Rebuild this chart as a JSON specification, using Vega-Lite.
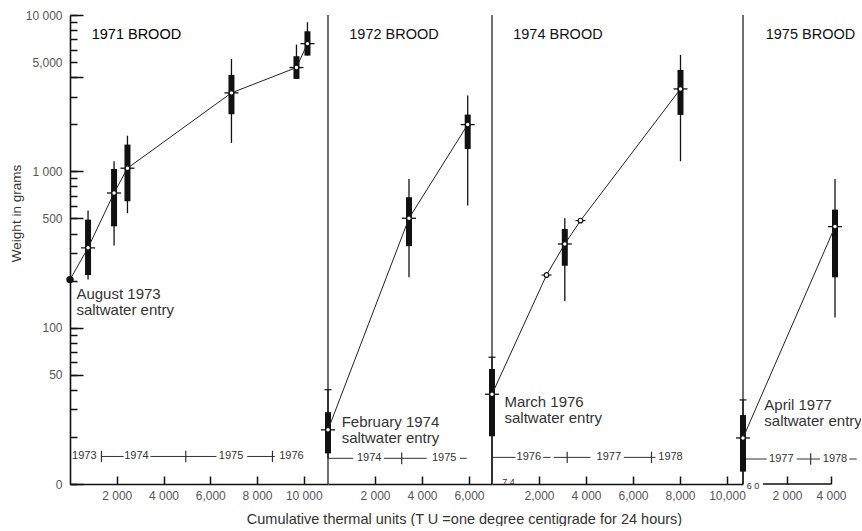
{
"$schema":"https://vega.github.io/schema/vega-lite/v6.json",
"background":"white",
"padding":{"left":9,"top":9,"right":0,"bottom":0},
"spacing":0,
"bounds":"flush",
"datasets":{"d":[
{"brood":"1971","type":"obs","kind":"entry","tu":0,"mean":203},
{"brood":"1971","type":"obs","kind":"box","tu":772,"lo":203,"boxlo":217,"mean":324,"boxhi":491,"hi":561},
{"brood":"1971","type":"obs","kind":"box","tu":1885,"lo":335,"boxlo":445,"mean":727,"boxhi":1036,"hi":1161},
{"brood":"1971","type":"obs","kind":"box","tu":2458,"lo":540,"boxlo":644,"mean":1047,"boxhi":1483,"hi":1690},
{"brood":"1971","type":"obs","kind":"box","tu":6907,"lo":1520,"boxlo":2319,"mean":3176,"boxhi":4139,"hi":5238},
{"brood":"1971","type":"obs","kind":"box","tu":9688,"lo":3900,"boxlo":3900,"mean":4612,"boxhi":5450,"hi":6470},
{"brood":"1971","type":"obs","kind":"box","tu":10158,"lo":5500,"boxlo":5500,"mean":6560,"boxhi":7870,"hi":8990},
{"brood":"1971","type":"seg","tu":1345,"tu2":2294,"w":15.0},
{"brood":"1971","type":"seg","tu":3440,"tu2":6266,"w":15.0},
{"brood":"1971","type":"seg","tu":7576,"tu2":8760,"w":15.0},
{"brood":"1971","type":"cross","tu":1345,"lo":13.8,"hi":16.3},
{"brood":"1971","type":"cross","tu":4952,"lo":13.8,"hi":16.3},
{"brood":"1971","type":"cross","tu":8661,"lo":13.8,"hi":16.3},
{"brood":"1971","type":"label","kind":"year","tu":610,"w":15.0,"text":"1973"},
{"brood":"1971","type":"label","kind":"year","tu":2840,"w":15.0,"text":"1974"},
{"brood":"1971","type":"label","kind":"year","tu":6891,"w":15.0,"text":"1975"},
{"brood":"1971","type":"label","kind":"year","tu":9474,"w":15.0,"text":"1976"},
{"brood":"1971","type":"label","kind":"title","tu":928,"w":7500,"text":"1971 BROOD"},
{"brood":"1971","type":"label","kind":"note","tu":275,"w":152.7,"text":["August 1973","saltwater entry"]},

{"brood":"1972","type":"divider","tu":0,"lo":10,"hi":10000},
{"brood":"1972","type":"obs","kind":"box","tu":0,"lo":14.6,"boxlo":15.7,"mean":22.2,"boxhi":28.8,"hi":40.1},
{"brood":"1972","type":"obs","kind":"box","tu":3447,"lo":210,"boxlo":332,"mean":501,"boxhi":683,"hi":894},
{"brood":"1972","type":"obs","kind":"box","tu":5945,"lo":604,"boxlo":1390,"mean":1990,"boxhi":2306,"hi":3050},
{"brood":"1972","type":"cap","tu":0,"w":40.1},
{"brood":"1972","type":"seg","tu":0,"tu2":1077,"w":14.6},
{"brood":"1972","type":"seg","tu":2383,"tu2":4200,"w":14.6},
{"brood":"1972","type":"seg","tu":5617,"tu2":5902,"w":14.6},
{"brood":"1972","type":"cross","tu":3136,"lo":13.4,"hi":15.9},
{"brood":"1972","type":"label","kind":"year","tu":1753,"w":14.6,"text":"1974"},
{"brood":"1972","type":"label","kind":"year","tu":4945,"w":14.6,"text":"1975"},
{"brood":"1972","type":"label","kind":"title","tu":906,"w":7500,"text":"1972 BROOD"},
{"brood":"1972","type":"label","kind":"note","tu":583,"w":23.06,"text":["February 1974","saltwater entry"]},

{"brood":"1974","type":"divider","tu":0,"lo":10,"hi":10000},
{"brood":"1974","type":"obs","kind":"box","tu":0,"lo":10,"boxlo":20.2,"mean":37.5,"boxhi":54.4,"hi":64.7},
{"brood":"1974","type":"obs","kind":"point","tu":2319,"mean":217},
{"brood":"1974","type":"obs","kind":"box","tu":3098,"lo":148,"boxlo":249,"mean":343,"boxhi":428,"hi":501},
{"brood":"1974","type":"obs","kind":"point","tu":3766,"mean":484},
{"brood":"1974","type":"obs","kind":"box","tu":8021,"lo":1161,"boxlo":2296,"mean":3367,"boxhi":4454,"hi":5556},
{"brood":"1974","type":"cap","tu":0,"w":64.7},
{"brood":"1974","type":"seg","tu":0,"tu2":1000,"w":14.8},
{"brood":"1974","type":"seg","tu":2179,"tu2":2489,"w":14.8},
{"brood":"1974","type":"seg","tu":2630,"tu2":4191,"w":14.8},
{"brood":"1974","type":"seg","tu":5609,"tu2":6957,"w":14.8},
{"brood":"1974","type":"cross","tu":3200,"lo":13.6,"hi":16.1},
{"brood":"1974","type":"cross","tu":6787,"lo":13.6,"hi":16.1},
{"brood":"1974","type":"label","kind":"year","tu":1566,"w":14.8,"text":"1976"},
{"brood":"1974","type":"label","kind":"year","tu":4970,"w":14.8,"text":"1977"},
{"brood":"1974","type":"label","kind":"year","tu":7596,"w":14.8,"text":"1978"},
{"brood":"1974","type":"label","kind":"title","tu":902,"w":7500,"text":"1974 BROOD"},
{"brood":"1974","type":"label","kind":"note","tu":532,"w":30.95,"text":["March 1976","saltwater entry"]},
{"brood":"1974","type":"label","kind":"small","tu":702,"w":10.3,"text":"7 4"},

{"brood":"1975","type":"divider","tu":0,"lo":10,"hi":10000},
{"brood":"1975","type":"obs","kind":"box","tu":0,"lo":10,"boxlo":12.0,"mean":19.7,"boxhi":27.6,"hi":34.5},
{"brood":"1975","type":"obs","kind":"box","tu":4182,"lo":116,"boxlo":210,"mean":443,"boxhi":569,"hi":894},
{"brood":"1975","type":"cap","tu":0,"w":34.5},
{"brood":"1975","type":"seg","tu":0,"tu2":1077,"w":14.45},
{"brood":"1975","type":"seg","tu":2441,"tu2":3500,"w":14.45},
{"brood":"1975","type":"seg","tu":4832,"tu2":5168,"w":14.45},
{"brood":"1975","type":"cross","tu":3077,"lo":13.3,"hi":15.7},
{"brood":"1975","type":"label","kind":"year","tu":1741,"w":14.45,"text":"1977"},
{"brood":"1975","type":"label","kind":"year","tu":4182,"w":14.45,"text":"1978"},
{"brood":"1975","type":"label","kind":"title","tu":1032,"w":7500,"text":"1975 BROOD"},
{"brood":"1975","type":"label","kind":"note","tu":968,"w":29.9,"text":["April 1977","saltwater entry"]},
{"brood":"1975","type":"label","kind":"small","tu":455,"w":9.75,"text":"6 0"},
{"brood":"1975","type":"axisline","tu":909,"tu2":4000,"w":10}
]},
"data":{"name":"d"},
"resolve":{"scale":{"x":"independent","y":"independent"},"axis":{"x":"independent","y":"independent"}},
"hconcat":[
{
"width":258,"height":469,
"transform":[{"filter":"datum.brood=='1971'"}],
"resolve":{"axis":{"y":"independent"}},
"encoding":{"x":{"field":"tu","type":"quantitative","scale":{"domain":[0,11037],"nice":false,"zero":false},
"axis":{"values":[2000,4000,6000,8000,10000],"title":null,"labelExpr":"datum.value==6000?'6,000':replace(format(datum.value,','),',',' ')"}}},
"layer":[
{"transform":[{"filter":"datum.type=='seg'"}],"mark":{"type":"rule","color":"#333","strokeWidth":1},"encoding":{"x2":{"field":"tu2"},"y":{"field":"w","type":"quantitative","scale":{"type":"log","domain":[10,10000],"nice":false},"axis":null}}},
{"transform":[{"filter":"datum.type=='cross'"}],"mark":{"type":"rule","color":"#333","strokeWidth":1.2},"encoding":{"y":{"field":"lo","type":"quantitative","scale":{"type":"log","domain":[10,10000],"nice":false},"axis":null},"y2":{"field":"hi"}}},
{"transform":[{"filter":"datum.type=='obs'"}],"mark":{"type":"rule","color":"#111","strokeWidth":1.3},"encoding":{"y":{"field":"lo","type":"quantitative","scale":{"type":"log","domain":[10,10000],"nice":false},
"axis":{"orient":"left","values":[10,20,30,40,50,60,70,80,90,100,200,300,400,500,600,700,800,900,1000,2000,3000,4000,5000,6000,7000,8000,9000,10000],
"title":"Weight in grams","titleFontSize":13.5,"titleX":-54,"titleY":198,"titleBaseline":"middle","titleAngle":270,
"labelExpr":"datum.value==10000?'10 000':datum.value==5000?'5,000':datum.value==1000?'1 000':datum.value==500?'500':datum.value==100?'100':datum.value==50?'50':datum.value==10?'0':''",
"tickSize":-7,"labelPadding":15}},"y2":{"field":"hi"}}},
{"transform":[{"filter":"datum.type=='obs'"}],"mark":{"type":"rule","color":"#111","strokeWidth":6,"strokeCap":"butt"},"encoding":{"y":{"field":"boxlo","type":"quantitative","scale":{"type":"log","domain":[10,10000],"nice":false},
"axis":{"orient":"left","values":[10,50,100,500,1000,4000,10000],"tickSize":-13,"labels":false,"domain":false,"title":null}},"y2":{"field":"boxhi"}}},
{"transform":[{"filter":"datum.type=='obs'"}],"mark":{"type":"line","color":"#222","strokeWidth":1},"encoding":{"y":{"field":"mean","type":"quantitative","scale":{"type":"log","domain":[10,10000],"nice":false},"axis":null}}},
{"transform":[{"filter":"datum.type=='obs' && datum.kind=='box'"}],"mark":{"type":"tick","orient":"horizontal","color":"#111","size":14,"thickness":1.3,"opacity":1},"encoding":{"y":{"field":"mean","type":"quantitative","scale":{"type":"log","domain":[10,10000],"nice":false},"axis":null}}},
{"transform":[{"filter":"datum.type=='obs' && datum.kind!='entry'"}],"mark":{"type":"point","shape":"circle","filled":true,"fill":"white","stroke":"#111","strokeWidth":1.2,"size":22,"opacity":1},"encoding":{"y":{"field":"mean","type":"quantitative","scale":{"type":"log","domain":[10,10000],"nice":false},"axis":null}}},
{"transform":[{"filter":"datum.kind=='entry'"}],"mark":{"type":"point","shape":"circle","filled":true,"color":"#111","size":55,"opacity":1},"encoding":{"y":{"field":"mean","type":"quantitative","scale":{"type":"log","domain":[10,10000],"nice":false},"axis":null}}},
{"transform":[{"filter":"datum.kind=='title'"}],"mark":{"type":"text","align":"left","baseline":"middle","fontSize":14.5,"color":"#000"},"encoding":{"text":{"field":"text"},"y":{"field":"w","type":"quantitative","scale":{"type":"log","domain":[10,10000],"nice":false},"axis":null}}},
{"transform":[{"filter":"datum.kind=='note'"}],"mark":{"type":"text","align":"left","baseline":"alphabetic","fontSize":15,"lineHeight":16,"color":"#333"},"encoding":{"text":{"field":"text"},"y":{"field":"w","type":"quantitative","scale":{"type":"log","domain":[10,10000],"nice":false},"axis":null}}},
{"transform":[{"filter":"datum.kind=='year'"}],"mark":{"type":"text","align":"center","baseline":"middle","fontSize":11,"color":"#333"},"encoding":{"text":{"field":"text"},"y":{"field":"w","type":"quantitative","scale":{"type":"log","domain":[10,10000],"nice":false},"axis":null}}}
]},
{
"width":164,"height":469,
"transform":[{"filter":"datum.brood=='1972'"}],
"encoding":{"x":{"field":"tu","type":"quantitative","scale":{"domain":[0,6979],"nice":false,"zero":false},
"axis":{"values":[2000,4000,6000],"title":"Cumulative thermal units (T U =one degree centigrade for 24 hours)","titleX":136,"titleFontSize":14.5,"titlePadding":11,"labelExpr":"datum.value==6000?'6,000':replace(format(datum.value,','),',',' ')"}}},
"layer":[
{"transform":[{"filter":"datum.type=='divider'"}],"mark":{"type":"rule","color":"#222","strokeWidth":1.3},"encoding":{"y":{"field":"lo","type":"quantitative","scale":{"type":"log","domain":[10,10000],"nice":false},"axis":null},"y2":{"field":"hi"}}},
{"transform":[{"filter":"datum.type=='seg'"}],"mark":{"type":"rule","color":"#333","strokeWidth":1},"encoding":{"x2":{"field":"tu2"},"y":{"field":"w","type":"quantitative","scale":{"type":"log","domain":[10,10000],"nice":false},"axis":null}}},
{"transform":[{"filter":"datum.type=='cross'"}],"mark":{"type":"rule","color":"#333","strokeWidth":1.2},"encoding":{"y":{"field":"lo","type":"quantitative","scale":{"type":"log","domain":[10,10000],"nice":false},"axis":null},"y2":{"field":"hi"}}},
{"transform":[{"filter":"datum.type=='obs'"}],"mark":{"type":"rule","color":"#111","strokeWidth":1.3},"encoding":{"y":{"field":"lo","type":"quantitative","scale":{"type":"log","domain":[10,10000],"nice":false},"axis":null},"y2":{"field":"hi"}}},
{"transform":[{"filter":"datum.type=='obs'"}],"mark":{"type":"rule","color":"#111","strokeWidth":6,"strokeCap":"butt"},"encoding":{"y":{"field":"boxlo","type":"quantitative","scale":{"type":"log","domain":[10,10000],"nice":false},"axis":null},"y2":{"field":"boxhi"}}},
{"transform":[{"filter":"datum.type=='obs'"}],"mark":{"type":"line","color":"#222","strokeWidth":1},"encoding":{"y":{"field":"mean","type":"quantitative","scale":{"type":"log","domain":[10,10000],"nice":false},"axis":null}}},
{"transform":[{"filter":"datum.type=='cap'"}],"mark":{"type":"tick","orient":"horizontal","color":"#111","size":7,"thickness":1.2,"opacity":1},"encoding":{"y":{"field":"w","type":"quantitative","scale":{"type":"log","domain":[10,10000],"nice":false},"axis":null}}},
{"transform":[{"filter":"datum.type=='obs' && datum.kind=='box'"}],"mark":{"type":"tick","orient":"horizontal","color":"#111","size":14,"thickness":1.3,"opacity":1},"encoding":{"y":{"field":"mean","type":"quantitative","scale":{"type":"log","domain":[10,10000],"nice":false},"axis":null}}},
{"transform":[{"filter":"datum.type=='obs'"}],"mark":{"type":"point","shape":"circle","filled":true,"fill":"white","stroke":"#111","strokeWidth":1.2,"size":22,"opacity":1},"encoding":{"y":{"field":"mean","type":"quantitative","scale":{"type":"log","domain":[10,10000],"nice":false},"axis":null}}},
{"transform":[{"filter":"datum.kind=='title'"}],"mark":{"type":"text","align":"left","baseline":"middle","fontSize":14.5,"color":"#111"},"encoding":{"text":{"field":"text"},"y":{"field":"w","type":"quantitative","scale":{"type":"log","domain":[10,10000],"nice":false},"axis":null}}},
{"transform":[{"filter":"datum.kind=='note'"}],"mark":{"type":"text","align":"left","baseline":"alphabetic","fontSize":15,"lineHeight":16,"color":"#333"},"encoding":{"text":{"field":"text"},"y":{"field":"w","type":"quantitative","scale":{"type":"log","domain":[10,10000],"nice":false},"axis":null}}},
{"transform":[{"filter":"datum.kind=='year'"}],"mark":{"type":"text","align":"center","baseline":"middle","fontSize":11,"color":"#333"},"encoding":{"text":{"field":"text"},"y":{"field":"w","type":"quantitative","scale":{"type":"log","domain":[10,10000],"nice":false},"axis":null}}}
]},
{
"width":251,"height":469,
"transform":[{"filter":"datum.brood=='1974'"}],
"encoding":{"x":{"field":"tu","type":"quantitative","scale":{"domain":[0,10681],"nice":false,"zero":false},
"axis":{"values":[2000,4000,6000,8000,10000],"title":null,"labelExpr":"datum.value==4000?'4 000':format(datum.value,',')"}}},
"layer":[
{"transform":[{"filter":"datum.type=='divider'"}],"mark":{"type":"rule","color":"#222","strokeWidth":1.3},"encoding":{"y":{"field":"lo","type":"quantitative","scale":{"type":"log","domain":[10,10000],"nice":false},"axis":null},"y2":{"field":"hi"}}},
{"transform":[{"filter":"datum.type=='seg'"}],"mark":{"type":"rule","color":"#333","strokeWidth":1},"encoding":{"x2":{"field":"tu2"},"y":{"field":"w","type":"quantitative","scale":{"type":"log","domain":[10,10000],"nice":false},"axis":null}}},
{"transform":[{"filter":"datum.type=='cross'"}],"mark":{"type":"rule","color":"#333","strokeWidth":1.2},"encoding":{"y":{"field":"lo","type":"quantitative","scale":{"type":"log","domain":[10,10000],"nice":false},"axis":null},"y2":{"field":"hi"}}},
{"transform":[{"filter":"datum.type=='obs'"}],"mark":{"type":"rule","color":"#111","strokeWidth":1.3},"encoding":{"y":{"field":"lo","type":"quantitative","scale":{"type":"log","domain":[10,10000],"nice":false},"axis":null},"y2":{"field":"hi"}}},
{"transform":[{"filter":"datum.type=='obs'"}],"mark":{"type":"rule","color":"#111","strokeWidth":6,"strokeCap":"butt"},"encoding":{"y":{"field":"boxlo","type":"quantitative","scale":{"type":"log","domain":[10,10000],"nice":false},"axis":null},"y2":{"field":"boxhi"}}},
{"transform":[{"filter":"datum.type=='obs'"}],"mark":{"type":"line","color":"#222","strokeWidth":1},"encoding":{"y":{"field":"mean","type":"quantitative","scale":{"type":"log","domain":[10,10000],"nice":false},"axis":null}}},
{"transform":[{"filter":"datum.type=='cap'"}],"mark":{"type":"tick","orient":"horizontal","color":"#111","size":7,"thickness":1.2,"opacity":1},"encoding":{"y":{"field":"w","type":"quantitative","scale":{"type":"log","domain":[10,10000],"nice":false},"axis":null}}},
{"transform":[{"filter":"datum.type=='obs' && datum.kind=='box'"}],"mark":{"type":"tick","orient":"horizontal","color":"#111","size":14,"thickness":1.3,"opacity":1},"encoding":{"y":{"field":"mean","type":"quantitative","scale":{"type":"log","domain":[10,10000],"nice":false},"axis":null}}},
{"transform":[{"filter":"datum.type=='obs' && datum.kind=='point'"}],"mark":{"type":"tick","orient":"horizontal","color":"#111","size":10,"thickness":1.1,"opacity":1},"encoding":{"y":{"field":"mean","type":"quantitative","scale":{"type":"log","domain":[10,10000],"nice":false},"axis":null}}},
{"transform":[{"filter":"datum.type=='obs'"}],"mark":{"type":"point","shape":"circle","filled":true,"fill":"white","stroke":"#111","strokeWidth":1.2,"size":22,"opacity":1},"encoding":{"y":{"field":"mean","type":"quantitative","scale":{"type":"log","domain":[10,10000],"nice":false},"axis":null}}},
{"transform":[{"filter":"datum.kind=='title'"}],"mark":{"type":"text","align":"left","baseline":"middle","fontSize":14.5,"color":"#111"},"encoding":{"text":{"field":"text"},"y":{"field":"w","type":"quantitative","scale":{"type":"log","domain":[10,10000],"nice":false},"axis":null}}},
{"transform":[{"filter":"datum.kind=='note'"}],"mark":{"type":"text","align":"left","baseline":"alphabetic","fontSize":15,"lineHeight":16,"color":"#333"},"encoding":{"text":{"field":"text"},"y":{"field":"w","type":"quantitative","scale":{"type":"log","domain":[10,10000],"nice":false},"axis":null}}},
{"transform":[{"filter":"datum.kind=='year'"}],"mark":{"type":"text","align":"center","baseline":"middle","fontSize":11,"color":"#333"},"encoding":{"text":{"field":"text"},"y":{"field":"w","type":"quantitative","scale":{"type":"log","domain":[10,10000],"nice":false},"axis":null}}},
{"transform":[{"filter":"datum.kind=='small'"}],"mark":{"type":"text","align":"center","baseline":"middle","fontSize":9,"color":"#333"},"encoding":{"text":{"field":"text"},"y":{"field":"w","type":"quantitative","scale":{"type":"log","domain":[10,10000],"nice":false},"axis":null}}}
]},
{
"width":118,"height":469,
"transform":[{"filter":"datum.brood=='1975'"}],
"encoding":{"x":{"field":"tu","type":"quantitative","scale":{"domain":[0,5364],"nice":false,"zero":false},
"axis":{"values":[2000,4000],"title":null,"domain":false,"labelExpr":"replace(format(datum.value,','),',',' ')"}}},
"layer":[
{"transform":[{"filter":"datum.type=='divider'"}],"mark":{"type":"rule","color":"#222","strokeWidth":1.3},"encoding":{"y":{"field":"lo","type":"quantitative","scale":{"type":"log","domain":[10,10000],"nice":false},"axis":null},"y2":{"field":"hi"}}},
{"transform":[{"filter":"datum.type=='axisline'"}],"mark":{"type":"rule","color":"#111","strokeWidth":1.6},"encoding":{"x2":{"field":"tu2"},"y":{"field":"w","type":"quantitative","scale":{"type":"log","domain":[10,10000],"nice":false},"axis":null}}},
{"transform":[{"filter":"datum.type=='seg'"}],"mark":{"type":"rule","color":"#333","strokeWidth":1},"encoding":{"x2":{"field":"tu2"},"y":{"field":"w","type":"quantitative","scale":{"type":"log","domain":[10,10000],"nice":false},"axis":null}}},
{"transform":[{"filter":"datum.type=='cross'"}],"mark":{"type":"rule","color":"#333","strokeWidth":1.2},"encoding":{"y":{"field":"lo","type":"quantitative","scale":{"type":"log","domain":[10,10000],"nice":false},"axis":null},"y2":{"field":"hi"}}},
{"transform":[{"filter":"datum.type=='obs'"}],"mark":{"type":"rule","color":"#111","strokeWidth":1.3},"encoding":{"y":{"field":"lo","type":"quantitative","scale":{"type":"log","domain":[10,10000],"nice":false},"axis":null},"y2":{"field":"hi"}}},
{"transform":[{"filter":"datum.type=='obs'"}],"mark":{"type":"rule","color":"#111","strokeWidth":6,"strokeCap":"butt"},"encoding":{"y":{"field":"boxlo","type":"quantitative","scale":{"type":"log","domain":[10,10000],"nice":false},"axis":null},"y2":{"field":"boxhi"}}},
{"transform":[{"filter":"datum.type=='obs'"}],"mark":{"type":"line","color":"#222","strokeWidth":1},"encoding":{"y":{"field":"mean","type":"quantitative","scale":{"type":"log","domain":[10,10000],"nice":false},"axis":null}}},
{"transform":[{"filter":"datum.type=='cap'"}],"mark":{"type":"tick","orient":"horizontal","color":"#111","size":7,"thickness":1.2,"opacity":1},"encoding":{"y":{"field":"w","type":"quantitative","scale":{"type":"log","domain":[10,10000],"nice":false},"axis":null}}},
{"transform":[{"filter":"datum.type=='obs' && datum.kind=='box'"}],"mark":{"type":"tick","orient":"horizontal","color":"#111","size":14,"thickness":1.3,"opacity":1},"encoding":{"y":{"field":"mean","type":"quantitative","scale":{"type":"log","domain":[10,10000],"nice":false},"axis":null}}},
{"transform":[{"filter":"datum.type=='obs'"}],"mark":{"type":"point","shape":"circle","filled":true,"fill":"white","stroke":"#111","strokeWidth":1.2,"size":22,"opacity":1},"encoding":{"y":{"field":"mean","type":"quantitative","scale":{"type":"log","domain":[10,10000],"nice":false},"axis":null}}},
{"transform":[{"filter":"datum.kind=='title'"}],"mark":{"type":"text","align":"left","baseline":"middle","fontSize":14.5,"color":"#111"},"encoding":{"text":{"field":"text"},"y":{"field":"w","type":"quantitative","scale":{"type":"log","domain":[10,10000],"nice":false},"axis":null}}},
{"transform":[{"filter":"datum.kind=='note'"}],"mark":{"type":"text","align":"left","baseline":"alphabetic","fontSize":15,"lineHeight":16,"color":"#333","clip":true},"encoding":{"text":{"field":"text"},"y":{"field":"w","type":"quantitative","scale":{"type":"log","domain":[10,10000],"nice":false},"axis":null}}},
{"transform":[{"filter":"datum.kind=='year'"}],"mark":{"type":"text","align":"center","baseline":"middle","fontSize":11,"color":"#333"},"encoding":{"text":{"field":"text"},"y":{"field":"w","type":"quantitative","scale":{"type":"log","domain":[10,10000],"nice":false},"axis":null}}},
{"transform":[{"filter":"datum.kind=='small'"}],"mark":{"type":"text","align":"center","baseline":"middle","fontSize":9,"color":"#333"},"encoding":{"text":{"field":"text"},"y":{"field":"w","type":"quantitative","scale":{"type":"log","domain":[10,10000],"nice":false},"axis":null}}}
]}
],
"config":{
"view":{"stroke":null},
"font":"Liberation Sans",
"text":{"font":"Liberation Sans"},
"axis":{"labelFont":"Liberation Sans","titleFont":"Liberation Sans","titleFontWeight":"normal","titleColor":"#333","grid":false},
"axisX":{"domainColor":"#111","domainWidth":1.6,"tickColor":"#111","tickWidth":1.5,"tickSize":-8,"labelPadding":14,"labelFontSize":12,"labelColor":"#555","labelFlush":false,"labelOverlap":false},
"axisY":{"domainColor":"#111","domainWidth":1.6,"tickColor":"#111","tickWidth":1.5,"labelFontSize":12,"labelColor":"#555","labelOverlap":false}
}
}
